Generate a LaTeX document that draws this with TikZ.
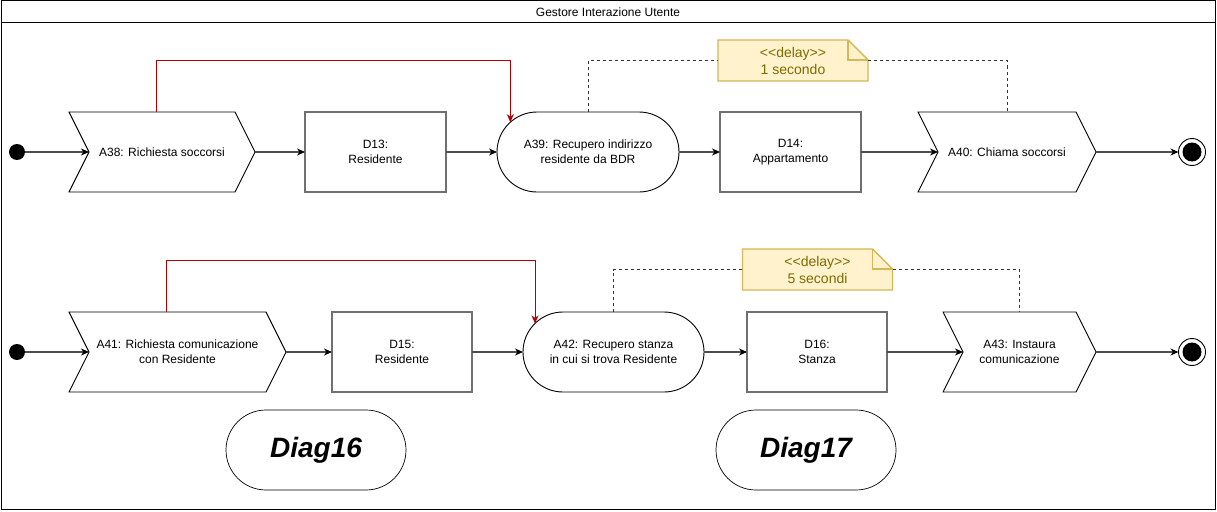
\documentclass[tikz,border=0pt]{standalone}
\usepackage{fontspec}
\setmainfont{Liberation Sans}
\usetikzlibrary{arrows.meta,shapes.misc,backgrounds}

\definecolor{notefill}{HTML}{FFF2CC}
\definecolor{noteline}{HTML}{D6B656}
\definecolor{notetext}{HTML}{7F6A00}
\definecolor{linkred}{HTML}{B20000}
\definecolor{flowgray}{HTML}{4D4D4D}
\definecolor{boxgray}{HTML}{707070}

\tikzset{
  every node/.style={font=\fontsize{12}{15}\selectfont, align=center},
  flow/.style={draw=flowgray, line width=1.2pt, -{Stealth[length=8pt,width=7pt,inset=2.5pt,color=black]}},
  reqlink/.style={draw=linkred, line width=0.9pt, -{Stealth[length=8pt,width=7pt,inset=2.5pt]}},
  delaylink/.style={draw=black!80, line width=0.9pt, dash pattern=on 3pt off 3pt},
  actstep/.style={rectangle, minimum height=80pt, inner sep=0pt, outer sep=0pt},
  actround/.style={rounded rectangle, draw=black, line width=0.9pt, minimum height=80pt, inner sep=0pt, outer sep=0pt},
  datanode/.style={rectangle, draw=boxgray, line width=1.4pt, minimum height=80pt, inner sep=0pt, outer sep=0pt},
  initnode/.style={circle, fill=black, minimum size=16pt, inner sep=0pt, outer sep=0pt},
  finalnode/.style={circle, draw=black, line width=0.9pt, fill=white, minimum size=27pt, inner sep=0pt, outer sep=0pt,
    path picture={\fill[black] (path picture bounding box.center) circle (9.5pt);}},
  notebox/.style={rectangle, minimum width=150pt, minimum height=41pt, inner sep=0pt, outer sep=0pt,
    text=notetext, font=\fontsize{14}{17}\selectfont},
  diagref/.style={rounded rectangle, draw=black, line width=0.7pt, minimum width=180pt, minimum height=80pt,
    inner sep=0pt, font=\fontsize{28}{32}\selectfont\bfseries\itshape}
}

% chevron outline round an actstep node
\newcommand{\chevron}[1]{%
  \draw[black, line width=0.9pt, line join=miter] (#1.north west) -- ([xshift=-20pt]#1.north east) -- (#1.east)
    -- ([xshift=-20pt]#1.south east) -- (#1.south west) -- ([xshift=20pt]#1.west) -- cycle;
  \coordinate (#1in) at ([xshift=20pt]#1.west);}

% note with folded corner
\newcommand{\notefold}[1]{%
  \filldraw[fill=notefill, draw=noteline, line width=1.4pt] (#1.north west) -- ([xshift=-20pt]#1.north east)
    -- ([yshift=-20pt]#1.north east) -- (#1.south east) -- (#1.south west) -- cycle;
  \draw[noteline, line width=1.4pt] ([xshift=-20pt]#1.north east) -- ([xshift=-20pt,yshift=-20pt]#1.north east)
    -- ([yshift=-20pt]#1.north east);}

\begin{document}
\begin{tikzpicture}[x=1pt, y=-1pt]
  \useasboundingbox (0,0) rectangle (1217,511);
  \draw[black, line width=1pt] (1,1) rectangle (1215,509);
  \draw[black, line width=1pt] (1,23) -- (1215,23);
  \node (title) at (608,12) {Gestore Interazione Utente};

  % first flow
  \node[initnode] (s1) at (17,152) {};
  \node[actstep, minimum width=186pt] (a38) at (162,152) {A38: Richiesta soccorsi};
  \node[datanode, minimum width=141pt] (d13) at (375.5,152) {D13:\\Residente};
  \node[actround, minimum width=182pt] (a39) at (588,152) {A39: Recupero indirizzo\\residente da BDR};
  \node[datanode, minimum width=141pt] (d14) at (790.5,152) {D14:\\Appartamento};
  \node[actstep, minimum width=178pt] (a40) at (1007,152) {A40: Chiama soccorsi};
  \node[finalnode] (f1) at (1192,152) {};
  \node[notebox] (n1) at (793,60.5) {{<}{<}delay{>}{>}\\1 secondo};

  % second flow
  \node[initnode] (s2) at (17,352) {};
  \node[actstep, minimum width=217pt] (a41) at (177.5,352) {A41: Richiesta comunicazione\\con Residente};
  \node[datanode, minimum width=140pt] (d15) at (402,352) {D15:\\Residente};
  \node[actround, minimum width=181pt] (a42) at (613.5,352) {A42: Recupero stanza\\in cui si trova Residente};
  \node[datanode, minimum width=140pt] (d16) at (817,352) {D16:\\Stanza};
  \node[actstep, minimum width=153pt] (a43) at (1019.5,352) {A43: Instaura\\comunicazione};
  \node[finalnode] (f2) at (1192,352) {};
  \node[notebox] (n2) at (817.5,269.5) {{<}{<}delay{>}{>}\\5 secondi};

  \node[diagref] (diag16) at (316,450) {Diag16};
  \node[diagref] (diag17) at (806,450) {Diag17};

  \chevron{a38} \chevron{a40} \chevron{a41} \chevron{a43}
  \begin{scope}[on background layer]
    \notefold{n1} \notefold{n2}
  \end{scope}

  \draw[flow] (s1) -- (a38in);
  \draw[flow] (a38) -- (d13);
  \draw[flow] (d13) -- (a39);
  \draw[flow] (a39.east) -- (d14.west);
  \draw[flow] (d14) -- (a40in);
  \draw[flow] (a40) -- (f1);
  \draw[reqlink] ([xshift=-6pt]a38.north) -- ++(0,-52) -| (a39.159);
  \draw[delaylink] (a39.north) |- (n1.west);
  \draw[delaylink] (n1.east) -| (a40.north);

  \draw[flow] (s2) -- (a41in);
  \draw[flow] (a41) -- (d15);
  \draw[flow] (d15) -- (a42);
  \draw[flow] (a42.east) -- (d16.west);
  \draw[flow] (d16) -- (a43in);
  \draw[flow] (a43) -- (f2);
  \draw[reqlink] ([xshift=-11.5pt]a41.north) -- ++(0,-52) -| (a42.160);
  \draw[delaylink] (a42.north) |- (n2.west);
  \draw[delaylink] (n2.east) -| (a43.north);
\end{tikzpicture}
\end{document}
